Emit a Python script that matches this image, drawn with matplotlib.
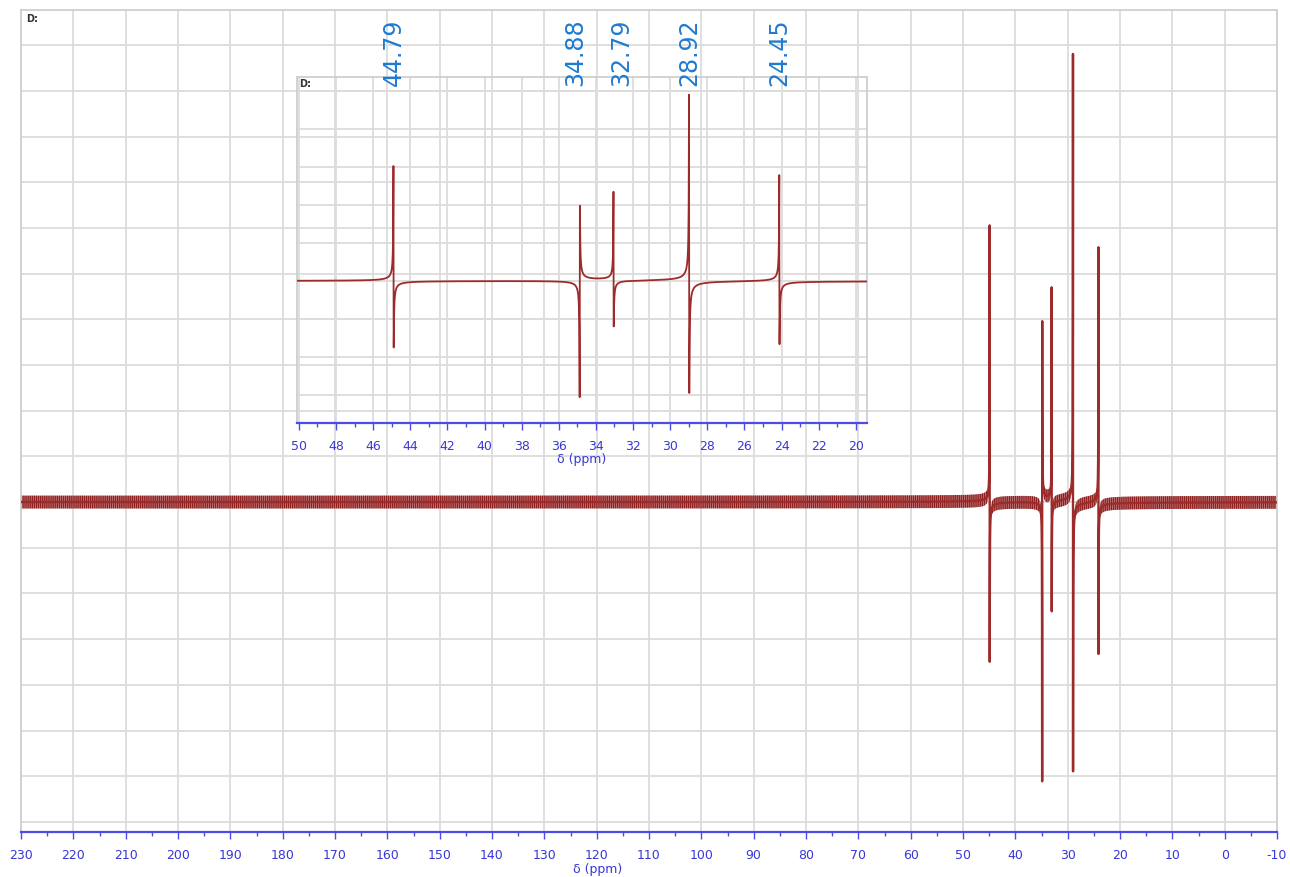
import numpy as np
import matplotlib
matplotlib.use("Agg")
import matplotlib.pyplot as plt
from matplotlib.ticker import MultipleLocator
import matplotlib.transforms as mtransforms

# Datos del espectro
peak_ppm = [44.90, 34.87, 33.05, 28.98, 24.12]     # posicion de cada senal
peak_up = [6.05, 3.92, 4.64, 9.80, 5.60]           # extremo positivo
peak_down = [-3.50, -6.15, -2.45, -5.90, -3.30]    # extremo negativo
peak_left_positive = [True, False, True, True, True]
peak_width = 0.0065
noise_amp = 0.14

label_text = ["44.79", "34.88", "32.79", "28.92", "24.45"]
label_ppm = [44.90, 35.14, 32.66, 28.98, 24.12]

main_xlim = (230, -10)
main_ylim = (-7.22, 10.77)
inset_xlim = (50.1, 19.4)
inset_ylim = (-7.47, 10.74)

red = "#9e2b2b"
axis_blue = "#4b4be8"
tick_blue = "#3737d6"
label_blue = "#1f7bd0"
grid_gray = "#dcdcdc"
frame_gray = "#cfcfcf"

# Traza: cada senal como lorentziana con fase (absorcion + dispersion)
x = np.linspace(-10, 230, 48001)
for p in peak_ppm:
    x = np.concatenate([x, np.linspace(p - 0.3, p + 0.3, 6001)])
x = np.sort(x)
y = np.zeros_like(x)
for p, up, dn, lp in zip(peak_ppm, peak_up, peak_down, peak_left_positive):
    ca = up + dn
    R = up - dn
    cd = np.sqrt(max(R * R - ca * ca, 0.0))
    if not lp:
        cd = -cd
    dx = x - p
    den = dx * dx + peak_width * peak_width
    y += ca * peak_width ** 2 / den + cd * peak_width * dx / den

fig = plt.figure(figsize=(12.9, 8.77), dpi=100)
W, H = 1290, 877

def style_axes(ax, major, minor, ygrid):
    ax.set_facecolor("none")
    ax.xaxis.set_major_locator(MultipleLocator(major))
    ax.xaxis.set_minor_locator(MultipleLocator(minor))
    ax.yaxis.set_major_locator(MultipleLocator(ygrid))
    ax.grid(True, which="major", color=grid_gray, lw=1.3, zorder=0)
    ax.set_axisbelow(True)
    ax.tick_params(axis="y", left=False, labelleft=False)
    ax.tick_params(axis="x", which="major", direction="out", length=5, width=1,
                   color=axis_blue, labelcolor=tick_blue, labelsize=9, pad=7)
    ax.tick_params(axis="x", which="minor", direction="out", length=3, width=1,
                   color=axis_blue)
    for s in ["top", "left", "right"]:
        ax.spines[s].set_color(frame_gray)
        ax.spines[s].set_linewidth(1.3)
    ax.spines["bottom"].set_color(axis_blue)
    ax.spines["bottom"].set_linewidth(1.6)
    ax.text(0.004, 0.995, "D:", transform=ax.transAxes, fontsize=7,
            fontweight="bold", color="#333333", ha="left", va="top")

# Grafico principal
ax = fig.add_axes([21 / W, 1 - 832 / H, (1277 - 21) / W, (832 - 10) / H])
style_axes(ax, 10, 5, 1)
ax.set_xlim(*main_xlim)
ax.set_ylim(*main_ylim)
ax.fill_between(x, y - noise_amp, y + noise_amp, facecolor="#c98e8e",
                edgecolor="#8e2020", hatch="||||||||", linewidth=0, zorder=2)
ax.plot(x, y, color=red, lw=1.7, zorder=3)
ax.set_xticks(np.arange(-10, 231, 10))
ax.set_xticklabels([str(v) for v in np.arange(-10, 231, 10)])
ax.set_xlabel("δ (ppm)", fontsize=9, color=tick_blue, labelpad=0)
ax.xaxis.set_label_coords(0.459, -0.038)

# Recuadro ampliado
axi = fig.add_axes([297 / W, 1 - 423 / H, (867 - 297) / W, (423 - 77) / H])
style_axes(axi, 2, 1, 2)
axi.set_xlim(*inset_xlim)
axi.set_ylim(*inset_ylim)
axi.plot(x, y, color=red, lw=1.3, zorder=3)
axi.set_xlabel("δ (ppm)", fontsize=9, color=tick_blue, labelpad=0)

trans = mtransforms.blended_transform_factory(axi.transData, axi.transAxes)
for lx, txt in zip(label_ppm, label_text):
    axi.text(lx, 0.975, txt, transform=trans, rotation=90, ha="center",
             va="bottom", fontsize=17, color=label_blue, clip_on=False)

fig.savefig("out.png", dpi=100, facecolor="white")
